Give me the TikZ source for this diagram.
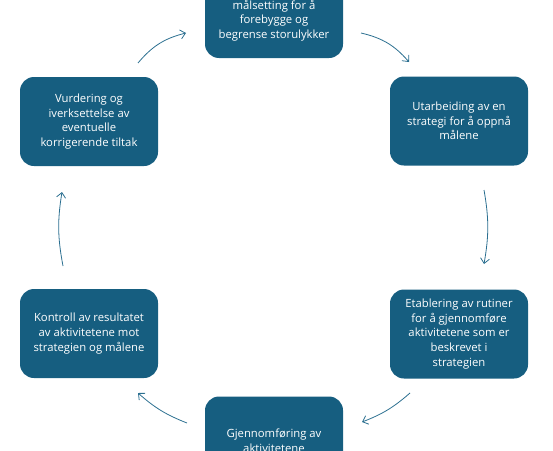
\documentclass[tikz,border=0pt]{standalone}
\usepackage{fontspec}
\setmainfont{Open Sans}
\usetikzlibrary{arrows.meta}
\definecolor{boxblue}{HTML}{165E80}
\definecolor{arrowblue}{HTML}{2B6F90}
\tikzset{
  box/.style={fill=boxblue, rounded corners=14pt, minimum width=138pt, minimum height=89pt, inner sep=0pt},
  boxtext/.style={text=white, align=center, font=\fontsize{11.3}{14.6}\selectfont, inner sep=0pt},
  cyc/.style={draw=arrowblue, line width=0.8pt, -{Straight Barb[length=5pt,width=9pt]}, bend left=#1},
  cyc/.default=18
}
\begin{document}
\begin{tikzpicture}[x=1pt,y=-1pt]
\useasboundingbox (0,0) rectangle (553,450);
\clip (0,0) rectangle (553,450);
% boxes
\node[box] (top) at (274,13.5) {};
\node[boxtext] (toptext) at (274,20.5) {målsetting for å\\forebygge og\\begrense storulykker};
\node[box,boxtext] (rt) at (459,121) {Utarbeiding av en\\strategi for å oppnå\\målene};
\node[box,boxtext] (rb) at (459,334) {Etablering av rutiner\\for å gjennomføre\\aktivitetene som er\\beskrevet i\\strategien};
\node[box,boxtext] (bot) at (274,441) {Gjennomføring av\\aktivitetene};
\node[box,boxtext] (lb) at (89,333.5) {Kontroll av resultatet\\av aktivitetene mot\\strategien og målene};
\node[box,boxtext] (lt) at (89,121.5) {Vurdering og\\iverksettelse av\\eventuelle\\korrigerende tiltak};
% arrow ends
\coordinate (a1s) at (138,63);  \coordinate (a1e) at (186,33);
\coordinate (a2s) at (361,33);  \coordinate (a2e) at (409,62);
\coordinate (a3s) at (484,190); \coordinate (a3e) at (484,264);
\coordinate (a4s) at (410,393); \coordinate (a4e) at (362,422);
\coordinate (a5s) at (187,423); \coordinate (a5e) at (138,393);
\coordinate (a6s) at (63,266);  \coordinate (a6e) at (62,192);
\draw[cyc] (a1s) to (a1e);
\draw[cyc] (a2s) to (a2e);
\draw[cyc=10] (a3s) to (a3e);
\draw[cyc=10] (a4s) to (a4e);
\draw[cyc=10] (a5s) to (a5e);
\draw[cyc=10] (a6s) to (a6e);
\end{tikzpicture}
\end{document}
